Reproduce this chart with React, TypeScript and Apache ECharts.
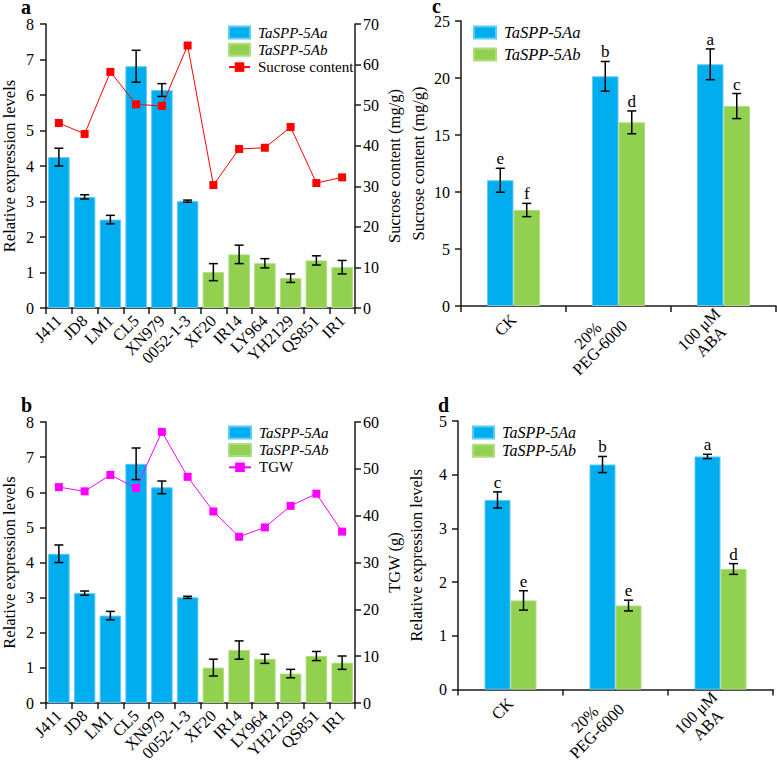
import React, { useEffect, useRef } from 'react';
import * as echarts from 'echarts';

// ---------- data ----------
const cultivars = ['J411', 'JD8', 'LM1', 'CL5', 'XN979', '0052-1-3', 'XF20', 'IR14', 'LY964', 'YH2129', 'QS851', 'IR1'];
const expr5Aa = [4.25, 3.13, 2.49, 6.81, 6.14, 3.01, '-', '-', '-', '-', '-', '-'];
const expr5Ab = ['-', '-', '-', '-', '-', '-', 1.01, 1.51, 1.26, 0.84, 1.34, 1.15];
const exprErr = [0.25, 0.06, 0.12, 0.45, 0.18, 0.03, 0.24, 0.26, 0.13, 0.12, 0.13, 0.19];
const sucroseContent = [45.6, 42.9, 58.2, 50.2, 49.8, 64.7, 30.3, 39.2, 39.5, 44.6, 30.8, 32.2];
const tgw = [46.1, 45.2, 48.7, 45.9, 57.9, 48.3, 40.9, 35.5, 37.5, 42.1, 44.7, 36.6];

const treatments = ['CK', '20%\nPEG-6000', '100 μM\nABA'];
const sucC5Aa = [11.03, 20.15, 21.2];
const sucC5AaErr = [1.05, 1.3, 1.35];
const sucC5Ab = [8.42, 16.11, 17.54];
const sucC5AbErr = [0.58, 1.0, 1.1];
const lettersC5Aa = ['e', 'b', 'a'];
const lettersC5Ab = ['f', 'd', 'c'];

const exprD5Aa = [3.53, 4.19, 4.34];
const exprD5AaErr = [0.15, 0.15, 0.04];
const exprD5Ab = [1.66, 1.565, 2.245];
const exprD5AbErr = [0.18, 0.1, 0.1];
const lettersD5Aa = ['c', 'b', 'a'];
const lettersD5Ab = ['e', 'e', 'd'];

const panelLetters = ['a', 'b', 'c', 'd'];

// ---------- styles ----------
const FONT = 'Liberation Serif';
const BLUE = '#00AEEF';
const GREEN = '#92D050';
const AXIS = '#1a1a1a';

const axisLine = { show: true, lineStyle: { color: AXIS, width: 1.5 } };
const axisTick = { show: true, length: 6, lineStyle: { color: AXIS, width: 1.5 } };

function errSeries(name: string, xi: number, yi: number, vals: any[], errs: number[], offset: number, letters?: string[]) {
  const data: any[] = [];
  vals.forEach((v, i) => {
    if (v !== '-') data.push([i, v, errs[i], i]);
  });
  return {
    type: 'custom',
    name,
    xAxisIndex: xi,
    yAxisIndex: yi,
    z: 5,
    silent: true,
    data,
    renderItem: (params: any, api: any) => {
      const x = api.value(0);
      const v = api.value(1);
      const e = api.value(2);
      const idx = api.value(3);
      const top = api.coord([x, v + e]);
      const bot = api.coord([x, v - e]);
      const cx = top[0] + offset;
      const h = 4.5;
      const st = { stroke: '#000', lineWidth: 1.5 };
      const children: any[] = [
        { type: 'line', shape: { x1: cx, y1: top[1], x2: cx, y2: bot[1] }, style: st },
        { type: 'line', shape: { x1: cx - h, y1: top[1], x2: cx + h, y2: top[1] }, style: st },
        { type: 'line', shape: { x1: cx - h, y1: bot[1], x2: cx + h, y2: bot[1] }, style: st },
      ];
      if (letters) {
        children.push({
          type: 'text',
          x: cx,
          y: top[1] - 1,
          style: { text: letters[idx], align: 'center', verticalAlign: 'bottom', fontSize: 17, fontFamily: FONT, fill: '#000' },
        });
      }
      return { type: 'group', children };
    },
  };
}

function catAxis(gi: number, cats: string[], rich: boolean) {
  return {
    type: 'category',
    gridIndex: gi,
    data: cats,
    axisLine,
    axisTick,
    axisLabel: rich
      ? {
          interval: 0,
          rotate: 45,
          margin: 11,
          color: '#000',
          formatter: (v: string) => v.split('\n').map((s) => '{c|' + s + '}').join('\n'),
          rich: { c: { align: 'center', fontSize: 16.5, fontFamily: FONT, color: '#000', lineHeight: 17 } },
        }
      : { interval: 0, rotate: 45, margin: 10, fontSize: 16.5, color: '#000', fontFamily: FONT },
  };
}

function valAxis(gi: number, max: number, interval: number, name: string, pos: string, gap: number, margin: number) {
  return {
    type: 'value',
    gridIndex: gi,
    position: pos,
    min: 0,
    max,
    interval,
    name,
    nameLocation: 'middle',
    nameGap: gap,
    nameTextStyle: { fontSize: 16.5, color: '#000', fontFamily: FONT },
    axisLine,
    axisTick,
    splitLine: { show: false },
    axisLabel: { fontSize: 16, color: '#000', fontFamily: FONT, margin },
  };
}

function panelLetter(text: string, left: number, top: number) {
  return {
    type: 'text',
    left,
    top,
    style: { text, fontSize: 20, lineHeight: 10, fontWeight: 'bold', fontFamily: FONT, fill: '#000' },
  };
}

export default function App() {
  const ref = useRef<HTMLDivElement>(null);
  useEffect(() => {
    document.body.style.margin = '0';
    const chart = echarts.init(ref.current!, null, { renderer: 'svg' });
    const barBorder = (c: string) => ({ color: c, borderColor: c === BLUE ? '#5fcaf3' : '#b0dd80', borderWidth: 1 });

    const option: any = {
      animation: false,
      textStyle: { fontFamily: FONT, color: '#000' },
      grid: [
        { left: 42, top: 24, width: 313, height: 284 },
        { left: 41, top: 422, width: 314, height: 284 },
        { left: 461, top: 21, width: 315, height: 285 },
        { left: 458, top: 421, width: 315, height: 284 },
      ],
      xAxis: [
        catAxis(0, cultivars, false),
        catAxis(1, cultivars, false),
        catAxis(2, treatments, true),
        catAxis(3, treatments, true),
      ],
      yAxis: [
        valAxis(0, 8, 1, 'Relative expression levels', 'left', 28, 12),
        valAxis(0, 70, 10, 'Sucrose content (mg/g)', 'right', 31, 8),
        valAxis(1, 8, 1, 'Relative expression levels', 'left', 28, 12),
        valAxis(1, 60, 10, 'TGW (g)', 'right', 31, 8),
        valAxis(2, 25, 5, 'Sucrose content (mg/g)', 'left', 34, 11),
        valAxis(3, 5, 1, 'Relative expression levels', 'left', 33, 11),
      ],
      legend: [
        {
          left: 223, top: 20, orient: 'vertical', itemWidth: 21, itemHeight: 12, itemGap: 2.3,
          textStyle: { fontSize: 15, color: '#000', fontFamily: FONT, padding: [0, 0, 0, 3] },
          data: [
            { name: 'TaSPP-5Aa', icon: 'rect', textStyle: { fontStyle: 'italic' } },
            { name: 'TaSPP-5Ab', icon: 'rect', textStyle: { fontStyle: 'italic' } },
            { name: 'Sucrose content' },
          ],
        },
        {
          left: 223, top: 420, orient: 'vertical', itemWidth: 22, itemHeight: 12, itemGap: 2.4,
          textStyle: { fontSize: 15, color: '#000', fontFamily: FONT, padding: [0, 0, 0, 3] },
          data: [
            { name: 'TaSPP-5Aa', icon: 'rect', textStyle: { fontStyle: 'italic' } },
            { name: 'TaSPP-5Ab', icon: 'rect', textStyle: { fontStyle: 'italic' } },
            { name: 'TGW' },
          ],
        },
        {
          left: 468, top: 19, orient: 'vertical', itemWidth: 22, itemHeight: 12, itemGap: 5,
          textStyle: { fontSize: 16.5, color: '#000', fontFamily: FONT, fontStyle: 'italic', padding: [0, 0, 0, 3] },
          data: [
            { name: 'TaSPP-5Aa', icon: 'rect' },
            { name: 'TaSPP-5Ab', icon: 'rect' },
          ],
        },
        {
          left: 467, top: 419.5, orient: 'vertical', itemWidth: 21, itemHeight: 12, itemGap: 2.3,
          textStyle: { fontSize: 16, color: '#000', fontFamily: FONT, fontStyle: 'italic', padding: [0, 0, 0, 3] },
          data: [
            { name: 'TaSPP-5Aa', icon: 'rect' },
            { name: 'TaSPP-5Ab', icon: 'rect' },
          ],
        },
      ],
      graphic: [
        panelLetter(panelLetters[0], 21, -3),
        panelLetter(panelLetters[1], 21, 395),
        panelLetter(panelLetters[2], 432, -4),
        panelLetter(panelLetters[3], 438, 395),
      ],
      series: [
        // panel a
        { type: 'bar', name: 'TaSPP-5Aa', xAxisIndex: 0, yAxisIndex: 0, data: expr5Aa, barWidth: 21.5, barGap: '-100%', itemStyle: barBorder(BLUE) },
        { type: 'bar', name: 'TaSPP-5Ab', xAxisIndex: 0, yAxisIndex: 0, data: expr5Ab, barWidth: 21.5, barGap: '-100%', itemStyle: barBorder(GREEN) },
        errSeries('errA', 0, 0, cultivars.map((_, i) => (expr5Aa[i] !== '-' ? expr5Aa[i] : expr5Ab[i])), exprErr, 0),
        {
          type: 'line', name: 'Sucrose content', xAxisIndex: 0, yAxisIndex: 1, data: sucroseContent, z: 6,
          symbol: 'rect', symbolSize: 8, lineStyle: { color: '#FF0000', width: 1 }, itemStyle: { color: '#FF0000' },
        },
        // panel b
        { type: 'bar', name: 'TaSPP-5Aa', xAxisIndex: 1, yAxisIndex: 2, data: expr5Aa, barWidth: 21.5, barGap: '-100%', itemStyle: barBorder(BLUE) },
        { type: 'bar', name: 'TaSPP-5Ab', xAxisIndex: 1, yAxisIndex: 2, data: expr5Ab, barWidth: 21.5, barGap: '-100%', itemStyle: barBorder(GREEN) },
        errSeries('errB', 1, 2, cultivars.map((_, i) => (expr5Aa[i] !== '-' ? expr5Aa[i] : expr5Ab[i])), exprErr, 0),
        {
          type: 'line', name: 'TGW', xAxisIndex: 1, yAxisIndex: 3, data: tgw, z: 6,
          symbol: 'rect', symbolSize: 8, lineStyle: { color: '#FF00FF', width: 1 }, itemStyle: { color: '#FF00FF' },
        },
        // panel c
        { type: 'bar', name: 'TaSPP-5Aa', xAxisIndex: 2, yAxisIndex: 4, data: sucC5Aa, barWidth: 26.5, barGap: '0%', itemStyle: barBorder(BLUE) },
        { type: 'bar', name: 'TaSPP-5Ab', xAxisIndex: 2, yAxisIndex: 4, data: sucC5Ab, barWidth: 26.5, barGap: '0%', itemStyle: barBorder(GREEN) },
        errSeries('errC1', 2, 4, sucC5Aa, sucC5AaErr, -13.25, lettersC5Aa),
        errSeries('errC2', 2, 4, sucC5Ab, sucC5AbErr, 13.25, lettersC5Ab),
        // panel d
        { type: 'bar', name: 'TaSPP-5Aa', xAxisIndex: 3, yAxisIndex: 5, data: exprD5Aa, barWidth: 26, barGap: '0%', itemStyle: barBorder(BLUE) },
        { type: 'bar', name: 'TaSPP-5Ab', xAxisIndex: 3, yAxisIndex: 5, data: exprD5Ab, barWidth: 26, barGap: '0%', itemStyle: barBorder(GREEN) },
        errSeries('errD1', 3, 5, exprD5Aa, exprD5AaErr, -13, lettersD5Aa),
        errSeries('errD2', 3, 5, exprD5Ab, exprD5AbErr, 13, lettersD5Ab),
      ],
    };
    chart.setOption(option);
    return () => chart.dispose();
  }, []);
  return <div ref={ref} style={{ width: 777, height: 764 }} />;
}
